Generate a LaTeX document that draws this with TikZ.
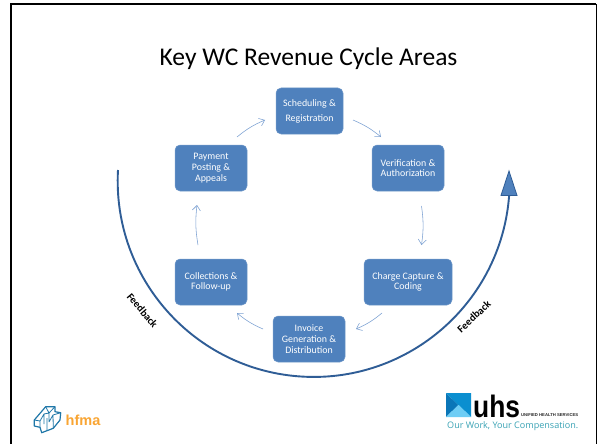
\documentclass[tikz,border=0pt]{standalone}
\usepackage{fontspec}
\setmainfont{Carlito}
\newfontfamily\logofont{Liberation Sans}
\newfontfamily\tagfont{Open Sans}
\definecolor{boxblue}{HTML}{4F81BD}
\definecolor{arcblue}{HTML}{2F5D96}
\definecolor{arrowblue}{HTML}{7BA0D2}
\definecolor{hfmablue}{HTML}{1F77A8}
\definecolor{hfmaorange}{HTML}{F9A533}
\definecolor{uhsteal}{HTML}{3AA3B5}
\definecolor{uhsdark}{HTML}{0B8FD0}
\definecolor{uhsmid}{HTML}{0A76B8}
\definecolor{uhslight}{HTML}{6ECDF5}
\usetikzlibrary{arrows.meta}
\tikzset{
  stage/.style={draw=boxblue!80!white,fill=boxblue,rounded corners=5pt,text=white,align=center,
    font=\fontsize{9.9}{10.5}\selectfont,inner sep=0pt,line width=.5pt,minimum height=46pt},
  cyc/.style={draw=arrowblue,line width=.55pt,-{Straight Barb[length=5pt,width=8pt]}},
  feedback/.style={font=\fontsize{10.5}{10.5}\selectfont\bfseries,text=black,inner sep=0pt},
  hfmaline/.style={draw=hfmablue,line width=1.2pt,line join=round}
}
\begin{document}
\begin{tikzpicture}[x=1pt,y=-1pt]
\useasboundingbox (0,0) rectangle (600,444);
\fill[white] (0,0) rectangle (600,444);
\draw[black,line width=2.2pt] (11,444) -- (11,4) -- (596,4);
\draw[black,line width=1pt] (596.5,4) -- (596.5,444);
\node[font=\fontsize{25.5}{28}\selectfont,text=black,inner sep=0pt] (title) at (308.5,59) {Key WC Revenue Cycle Areas};
\node[stage,minimum width=67pt,font=\fontsize{9.9}{15}\selectfont] (sched) at (309.5,111) {Scheduling \&\\Registration};
\node[stage,minimum width=72pt] (verif) at (408,168) {Verification \&\\Authorization};
\node[stage,minimum width=88pt] (charge) at (408,282) {Charge Capture \&\\Coding};
\node[stage,minimum width=72pt,font=\fontsize{9.9}{11}\selectfont] (invoice) at (309,339) {Invoice\\Generation \&\\Distribution};
\node[stage,minimum width=72pt] (coll) at (211,282) {Collections \&\\Follow-up};
\node[stage,minimum width=72pt,font=\fontsize{9.9}{11}\selectfont] (pay) at (211,168) {Payment\\Posting \&\\Appeals};
\coordinate (c1) at (353,120);\coordinate (c2) at (381,137);
\coordinate (c3) at (421.5,206);\coordinate (c4) at (421.5,245);
\coordinate (c5) at (382,313);\coordinate (c6) at (356,329);
\coordinate (c7) at (263,329);\coordinate (c8) at (237,313);
\coordinate (c9) at (198,245);\coordinate (c10) at (197,205);
\coordinate (c11) at (237,137);\coordinate (c12) at (265,120);
\draw[cyc] (c1) to[bend left=8] (c2);
\draw[cyc] (c3) to[bend left=8] (c4);
\draw[cyc] (c5) to[bend left=8] (c6);
\draw[cyc] (c7) to[bend left=8] (c8);
\draw[cyc] (c9) to[bend left=8] (c10);
\draw[cyc] (c11) to[bend left=8] (c12);
% big arc with triangular head
\coordinate (arcstart) at (118,170);
\draw[arcblue,line width=1.9pt] (arcstart) arc[start angle=183.2,end angle=4.4,radius=196] coordinate (arcend);
\draw[fill=boxblue,draw=arcblue,line width=.8pt,line join=miter] (501,195.5) -- (509,171) -- (517,195.5) -- cycle;
\node[feedback,rotate=-50] (fbleft) at (142.5,310.5) {Feedback};
\node[feedback,rotate=43] (fbright) at (474,316.5) {Feedback};
% hfma logo
\draw[hfmaline,fill=white] (34.3,420) -- (45.7,406.7) -- (55,406.7) -- (55,411.7) -- (60.7,412.7) -- (60,420) -- (53.3,428.3) -- (41.7,432.7) -- (40,427.3) -- (34.3,426) -- cycle;
\draw[hfmaline,line width=.8pt] (34.3,420) -- (40,421) -- (44,414) -- (49,413) -- (55,406.7)
  (45.7,406.7) -- (49,413) -- (49,422) (40,421) -- (40,427.3) (44,414) -- (44,424)
  (49,422) -- (53,415) -- (60.7,412.7) (53,415) -- (53.3,428.3) (47,418) -- (47,430);
\node[font=\logofont\bfseries\fontsize{14.5}{16}\selectfont,text=hfmaorange,inner sep=0pt] (hfmatext) at (83,420) {hfma};
% uhs logo
\fill[uhsmid] (446,393) -- (458.5,405) -- (446,417) -- cycle;
\fill[uhsdark] (446,393) -- (471,393) -- (471,417) -- (458.5,405) -- cycle;
\fill[uhslight] (446,417) -- (458.5,405) -- (471,417) -- cycle;
\node[font=\logofont\bfseries\fontsize{31}{32}\selectfont,text=black,inner sep=0pt,xscale=.85,anchor=base west] (uhstext) at (473,417) {uhs};
\node[font=\logofont\bfseries\fontsize{4.2}{4.5}\selectfont,text=black!85,inner sep=0pt,anchor=base west] (uhssub) at (521,416) {UNIFIED HEALTH SERVICES};
\node[font=\tagfont\fontsize{9.05}{10}\selectfont,text=uhsteal,inner sep=0pt,anchor=base west] (uhstag) at (447,428) {Our Work, Your Compensation.};
\end{tikzpicture}
\end{document}
